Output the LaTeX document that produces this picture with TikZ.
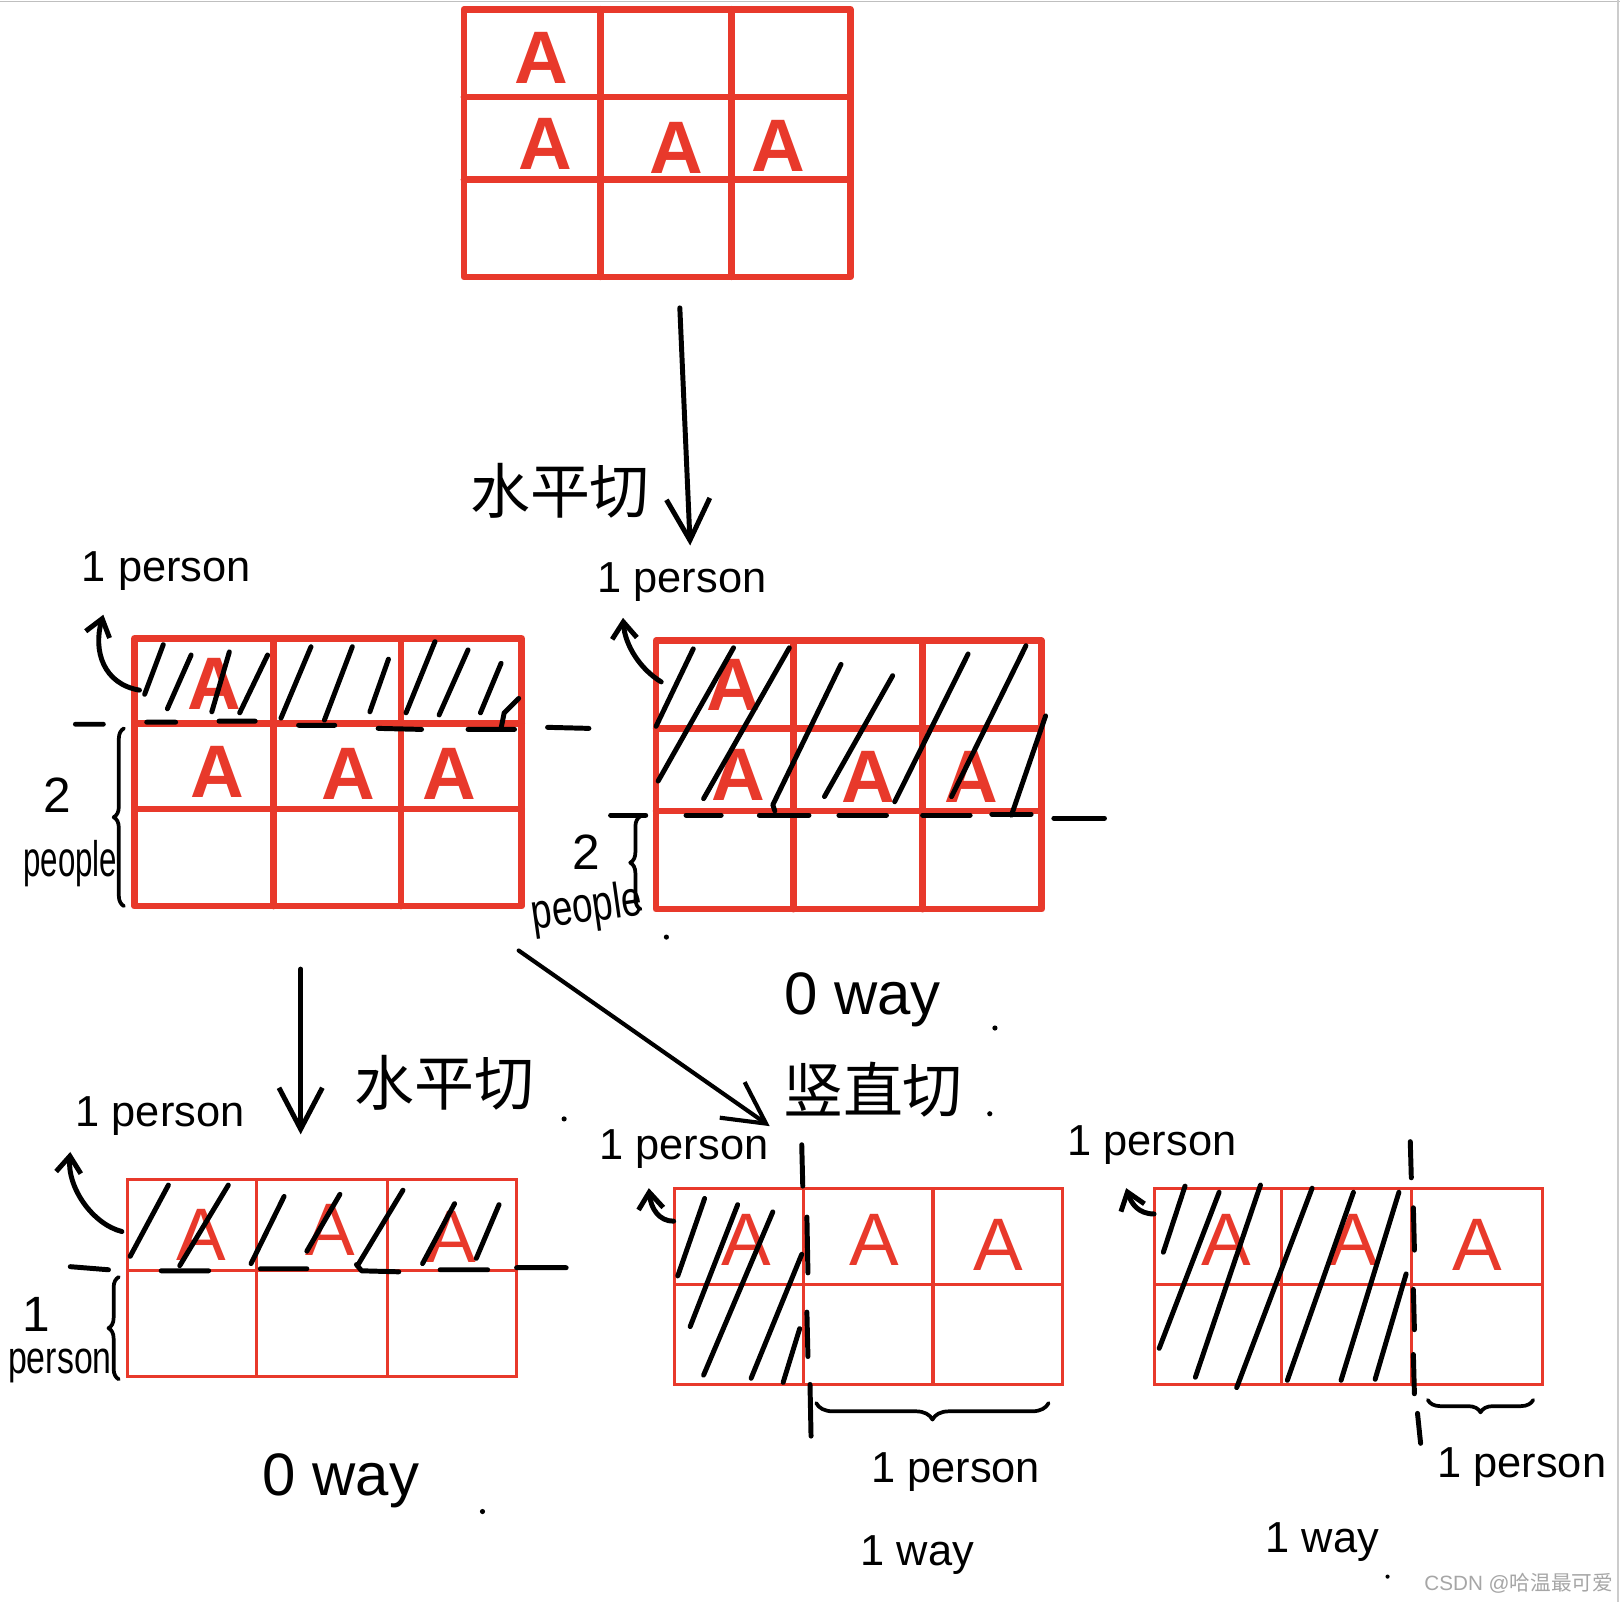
\documentclass[tikz,border=0pt]{standalone}
\usepackage{fontspec}
\usepackage{graphicx}
\setmainfont{Liberation Sans}
\newfontfamily\cjk{Noto Sans CJK SC}
\usetikzlibrary{arrows.meta,decorations.pathreplacing}
\definecolor{gridred}{HTML}{E8392B}
\begin{document}
\begin{tikzpicture}[x=0.5pt,y=-0.5pt,
  thickgrid/.style={draw=gridred,line width=3.2pt,line join=round,line cap=round},
  thingrid/.style={draw=gridred,line width=1.5pt},
  ink/.style={line width=2.4pt,line cap=round,line join=round},
  bigtip/.style={-{Straight Barb[length=20pt,width=21pt]}},
  smalltip/.style={-{Straight Barb[length=8pt,width=12pt]}},
  lab/.style={inner sep=0pt,font=\fontsize{21}{21}\selectfont},
  waylab/.style={inner sep=0pt,font=\fontsize{29}{29}\selectfont},
  cn/.style={inner sep=0pt,font=\cjk\fontsize{29}{29}\selectfont},
  boldA/.style={inner sep=0pt,text=gridred,font=\bfseries\fontsize{36}{36}\selectfont},
  thinA/.style={inner sep=0pt,text=gridred,font=\fontsize{36}{36}\selectfont},
  brc/.style={ink,line width=1.8pt,decorate,decoration={brace,amplitude=5pt}},
  pdot/.style={fill=black},
]
\useasboundingbox (0,0) rectangle (1568,1551);
\fill[white] (0,0) rectangle (1568,1551);
\draw[gray!50,line width=0.8pt] (0,1.5) -- (1568,1.5);
\draw[gray!40,line width=0.8pt] (1566,0) -- (1566,1551);

% ---------- top grid ----------
\draw[thickgrid] (449,9) rectangle (823,268);
\draw[thickgrid] (581,9)--(581,268) (708,9)--(708,268) (449,94)--(823,94) (449,174)--(823,174);
\node[boldA] (t11) at (524,56) {A};
\node[boldA] (t21) at (528,139) {A};
\node[boldA] (t22) at (655,143) {A};
\node[boldA] (t23) at (753,141) {A};

\coordinate (a1s) at (658,298);
\coordinate (a1e) at (668,528);
\draw[ink,bigtip] (a1s) -- (a1e);
\node[cn] (cut1) at (542,475) {水平切};

% ---------- middle left grid ----------
\draw[thickgrid] (130,618) rectangle (505,877);
\draw[thickgrid] (265,618)--(265,877) (388,618)--(388,877) (130,700)--(505,700) (130,783)--(505,783);
\node[boldA] (l11) at (207,662) {A};
\node[boldA] (l21) at (210,747) {A};
\node[boldA] (l22) at (337,749) {A};
\node[boldA] (l23) at (435,749) {A};
\draw[ink] (140,672)--(158,624) (162,686)--(185,634) (205,689)--(222,631) (232,690)--(259,634)
  (272,695)--(301,626) (314,697)--(341,626) (358,689)--(376,638) (393,690)--(421,621)
  (425,692)--(453,629) (465,690)--(485,642) (485,705)--(488,690)--(502,676);
\draw[ink] (73,701)--(100,701) (142,699)--(170,699) (212,698)--(247,698) (289,702)--(324,702)
  (366,705)--(408,706) (453,706)--(498,706) (530,704)--(570,705);
\draw[brc] (120,877) -- (120,705);
\node[lab,font=\fontsize{24}{24}\selectfont] (mL2) at (55,770) {2};
\node[lab] (mLpeople) at (68,836) {\scalebox{0.72}[1.15]{people}};
\node[lab] (mLp) at (161,553) {1 person};
\coordinate (c1s) at (135,668);
\coordinate (c1e) at (100,595);
\draw[ink,smalltip] (c1s) .. controls (100,662) and (90,630) .. (c1e);

% ---------- middle right grid ----------
\draw[thickgrid] (635,620) rectangle (1008,880);
\draw[thickgrid] (768,620)--(768,880) (893,620)--(893,880) (635,705)--(1008,705) (635,785)--(1008,785);
\node[boldA] (r11) at (710,663) {A};
\node[boldA] (r21) at (715,750) {A};
\node[boldA] (r22) at (840,752) {A};
\node[boldA] (r23) at (940,752) {A};
\draw[ink] (635,703)--(671,628) (637,756)--(710,627) (681,773)--(764,627) (750,785)--(748,779)--(814,643)
  (798,771)--(864,654) (866,776)--(937,633) (921,771)--(993,625) (979,789)--(1012,693);
\draw[ink] (591,789)--(625,789) (664,789)--(698,789) (735,789)--(783,789) (812,789)--(858,789)
  (893,789)--(939,789) (960,788)--(998,788) (1020,792)--(1069,792);
\draw[brc] (620,880) -- (620,790);
\node[lab,font=\fontsize{24}{24}\selectfont] (mR2) at (567,825) {2};
\node[lab,rotate=8] (mRpeople) at (568,880) {\scalebox{0.85}[1.15]{people}};
\fill[pdot] (645,907) circle (2.5);
\node[lab] (mRp) at (660,563) {1 person};
\coordinate (c2s) at (640,660);
\coordinate (c2e) at (603,598);
\draw[ink,smalltip] (c2s) .. controls (620,648) and (605,625) .. (c2e);
\node[waylab] (way1) at (835,968) {0 way};
\fill[pdot] (963,995) circle (2.5);

% ---------- arrows to bottom ----------
\coordinate (a2s) at (291,938);
\coordinate (a2e) at (291,1098);
\draw[ink,bigtip] (a2s) -- (a2e);
\node[cn] (cut2) at (430,1048) {水平切};
\fill[pdot] (546,1083) circle (2.5);
\coordinate (a3s) at (502,920);
\coordinate (a3e) at (745,1090);
\draw[ink,line width=2pt,bigtip] (a3s) -- (a3e);
\node[cn] (cut3) at (845,1055) {竖直切};
\fill[pdot] (958,1078) circle (2.5);

% ---------- bottom left grid ----------
\draw[thingrid] (123,1142) rectangle (500,1332);
\draw[thingrid] (248,1142)--(248,1332) (375,1142)--(375,1332) (123,1230)--(500,1230);
\node[thinA] (bl1) at (195,1195) {A};
\node[thinA] (bl2) at (320,1190) {A};
\node[thinA] (bl3) at (437,1197) {A};
\draw[ink] (126,1216)--(163,1147) (174,1225)--(221,1147) (243,1223)--(275,1158) (297,1211)--(329,1156)
  (346,1225)--(390,1152) (409,1223)--(440,1165) (461,1218)--(483,1166);
\draw[ink] (68,1226)--(105,1229) (156,1230)--(202,1230) (252,1228)--(297,1228) (345,1224)--(350,1230)--(386,1231)
  (426,1229)--(472,1229) (500,1227)--(548,1227);
\draw[brc] (115,1335) -- (115,1236);
\node[lab,font=\fontsize{24}{24}\selectfont] (bL1) at (35,1272) {1};
\node[lab] (bLperson) at (58,1322) {\scalebox{0.78}[1.05]{person}};
\node[lab] (bLp) at (155,1080) {1 person};
\coordinate (c3s) at (118,1192);
\coordinate (c3e) at (68,1115);
\draw[ink,smalltip] (c3s) .. controls (90,1185) and (65,1150) .. (c3e);
\node[waylab] (way2) at (330,1433) {0 way};
\fill[pdot] (467,1463) circle (2.5);

% ---------- bottom middle grid ----------
\draw[thingrid] (653,1150) rectangle (1028,1340);
\draw[thingrid] (778,1150)--(778,1340) (903,1150)--(903,1340) (653,1243)--(1028,1243);
\node[thinA] (bm1) at (722,1200) {A};
\node[thinA] (bm2) at (846,1200) {A};
\node[thinA] (bm3) at (966,1205) {A};
\draw[ink] (656,1235)--(682,1160) (668,1284)--(714,1166) (681,1331)--(748,1173) (727,1334)--(776,1214)
  (758,1338)--(774,1286);
\draw[ink] (776,1108)--(777,1148) (781,1178)--(782,1232) (781,1270)--(782,1313) (784,1340)--(785,1390);
\draw[brc,decoration={brace,amplitude=8pt}] (1015,1358) -- (790,1358);
\node[lab] (bMp2) at (925,1425) {1 person};
\node[lab] (bMway) at (888,1505) {1 way};
\node[lab] (bMp) at (662,1112) {1 person};
\coordinate (c4s) at (652,1182);
\coordinate (c4e) at (628,1150);
\draw[ink,smalltip] (c4s) .. controls (638,1182) and (630,1170) .. (c4e);

% ---------- bottom right grid ----------
\draw[thingrid] (1117,1150) rectangle (1493,1340);
\draw[thingrid] (1240,1150)--(1240,1340) (1366,1150)--(1366,1340) (1117,1243)--(1493,1243);
\node[thinA] (br1) at (1187,1200) {A};
\node[thinA] (br2) at (1310,1200) {A};
\node[thinA] (br3) at (1430,1205) {A};
\draw[ink] (1126,1212)--(1147,1148) (1122,1305)--(1180,1154) (1157,1333)--(1220,1147) (1197,1343)--(1270,1150)
  (1246,1336)--(1310,1154) (1298,1336)--(1354,1154) (1331,1335)--(1361,1233);
\draw[ink] (1365,1105)--(1366,1140) (1368,1169)--(1369,1210) (1368,1248)--(1369,1287) (1368,1311)--(1369,1349)
  (1372,1368)--(1375,1397);
\draw[brc,decoration={brace,amplitude=6pt}] (1484,1355) -- (1382,1355);
\node[lab] (bRp2) at (1473,1420) {1 person};
\node[lab] (bRway) at (1280,1493) {1 way};
\fill[pdot] (1343,1526) circle (2);
\node[lab] (bRp) at (1115,1108) {1 person};
\coordinate (c5s) at (1117,1175);
\coordinate (c5e) at (1090,1150);
\draw[ink,smalltip] (c5s) .. controls (1102,1175) and (1095,1165) .. (c5e);

\node[inner sep=0pt,text=gray!70,font=\fontsize{10}{10}\selectfont] (wm) at (1470,1532) {CSDN @{\cjk 哈温最可爱}};
\end{tikzpicture}
\end{document}
